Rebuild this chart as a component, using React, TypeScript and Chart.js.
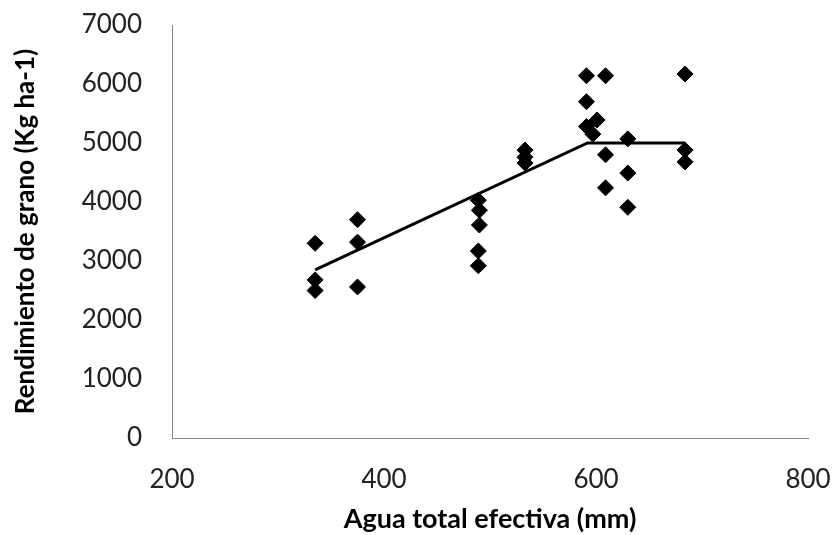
import React, { useEffect, useRef } from "react";
import { Chart, registerables } from "chart.js";

Chart.register(...registerables);

// Observed points: water (mm) and grain yield (kg/ha)
const waterMm = [
  335, 335, 335,
  375, 375, 375,
  489, 490, 490, 489, 489,
  533, 533, 533,
  591, 591, 591, 601, 597,
  609, 609, 609,
  630, 630, 630,
  684, 684, 684,
];
const yieldKg = [
  3300, 2680, 2500,
  3700, 3320, 2560,
  4030, 3860, 3610, 3170, 2920,
  4880, 4760, 4660,
  6140, 5700, 5280, 5390, 5150,
  6140, 4800, 4240,
  5070, 4490, 3910,
  6170, 4880, 4680,
];

// Fitted segmented (linear-plateau) model
const fitX = [335, 592, 684];
const fitY = [2850, 5000, 5000];

const xTicks = [200, 400, 600, 800];
const yTicks = [0, 1000, 2000, 3000, 4000, 5000, 6000, 7000];

const xTitle = "Agua total efectiva (mm)";
const yTitle = "Rendimiento de grano (Kg ha-1)";

const FONT = "Lato, 'Noto Sans', sans-serif";

export default function App() {
  const ref = useRef<HTMLCanvasElement | null>(null);

  useEffect(() => {
    document.body.style.margin = "0";
    const canvas = ref.current;
    if (!canvas) return;
    const points = waterMm.map((x, i) => ({ x, y: yieldKg[i] }));
    const fit = fitX.map((x, i) => ({ x, y: fitY[i] }));
    const chart = new Chart(canvas, {
      type: "scatter",
      data: {
        datasets: [
          {
            type: "line",
            label: "Modelo",
            data: fit,
            borderColor: "#000",
            borderWidth: 3,
            pointRadius: 0,
            fill: false,
            tension: 0,
            order: 2,
          },
          {
            label: "Observado",
            data: points,
            pointStyle: "rectRot",
            pointRadius: 8,
            pointHoverRadius: 8,
            backgroundColor: "#000",
            borderColor: "#000",
            borderWidth: 1,
            order: 1,
          },
        ],
      },
      options: {
        animation: false,
        responsive: false,
        maintainAspectRatio: false,
        layout: { padding: { top: 25, right: 26, left: 0, bottom: 0 } },
        plugins: {
          legend: { display: false },
          tooltip: { enabled: false },
        },
        scales: {
          x: {
            type: "linear",
            min: 200,
            max: 800,
            afterBuildTicks: (s: any) => {
              s.ticks = xTicks.map((v) => ({ value: v }));
            },
            afterFit: (s: any) => {
              s.height = 97;
              s.paddingLeft = 0;
              s.paddingRight = 0;
            },
            grid: { display: false, drawTicks: false },
            border: { display: true, color: "#868686", width: 1 },
            ticks: {
              padding: 26,
              color: "#222",
              font: { family: FONT, size: 26 },
              maxRotation: 0,
              callback: (v: any) => String(v),
            },
            title: {
              display: true,
              text: xTitle,
              color: "#000",
              font: { family: FONT, size: 27, weight: "bold" },
              padding: { top: 0, bottom: 0 },
            },
          },
          y: {
            type: "linear",
            min: 0,
            max: 7000,
            afterBuildTicks: (s: any) => {
              s.ticks = yTicks.map((v) => ({ value: v }));
            },
            afterFit: (s: any) => {
              s.width = 172;
              s.paddingTop = 0;
              s.paddingBottom = 0;
            },
            grid: { display: false, drawTicks: false },
            border: { display: true, color: "#868686", width: 1 },
            ticks: {
              padding: 30,
              color: "#222",
              font: { family: FONT, size: 26 },
              callback: (v: any) => String(v),
            },
            title: {
              display: true,
              text: yTitle,
              color: "#000",
              font: { family: FONT, size: 26, weight: "bold" },
              padding: { top: 10, bottom: 0 },
            },
          },
        },
      },
    });
    return () => chart.destroy();
  }, []);

  return (
    <div style={{ position: "absolute", left: 0, top: 0, width: 834, height: 535, background: "#fff" }}>
      <canvas ref={ref} width={834} height={535} style={{ width: 834, height: 535, display: "block" }} />
    </div>
  );
}
